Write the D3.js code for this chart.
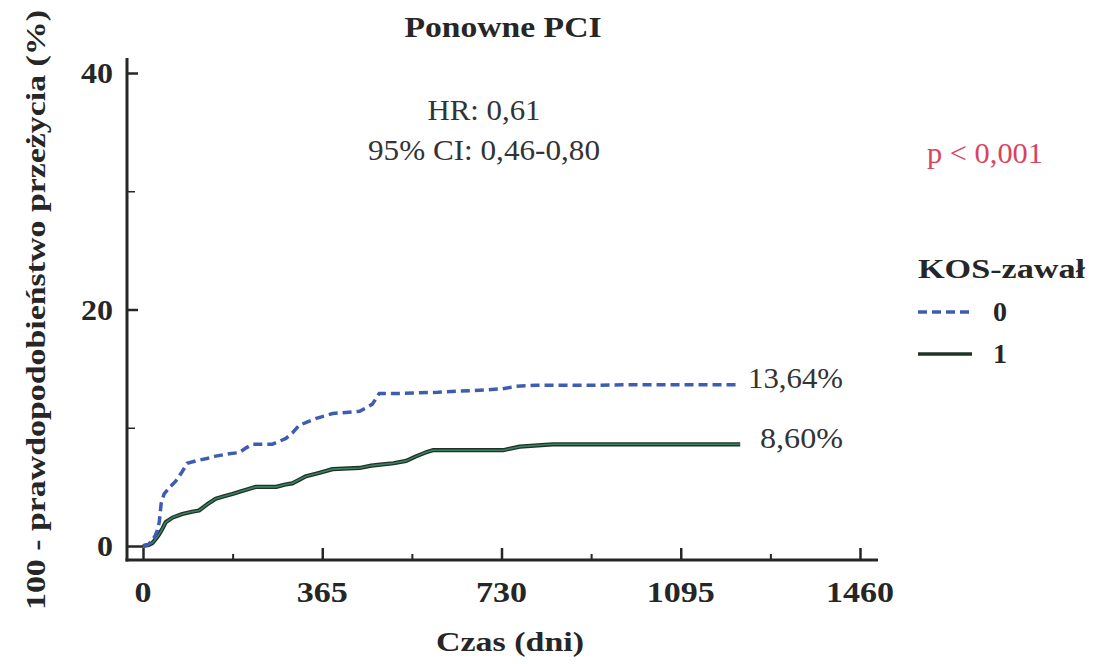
<!DOCTYPE html>
<html><head><meta charset="utf-8">
<script src="https://cdn.jsdelivr.net/npm/d3@7"></script>
<style>
body{margin:0;background:#fff;}
svg{display:block;}
text{font-family:"Liberation Serif","Times New Roman",Times,serif;}
</style></head>
<body><svg id="c" width="1093" height="664" font-family="Liberation Serif, Times New Roman, serif"></svg>
<script>
// ---- data ----
const xTicks = [0, 365, 730, 1095, 1460];
const xMinorTicks = [182.5, 547.5, 912.5, 1277.5];
const yTicks = [0, 20, 40];
const yMinorTicks = [10, 30];
const groups = ["0", "1"];
const days0 = [0,10,18,25,29,33,37,43,55,67,80,90,108,130,148,175,196,210,223,263,280,291,305,318,335,353,386,441,455,467,475,481,522,600,645,700,732,760,800,924,1000,1216];
const vals0 = [0,0.1,0.4,0.9,1.3,2.0,3.6,4.4,5.0,5.5,6.3,7.0,7.2,7.4,7.6,7.8,7.9,8.3,8.6,8.6,8.9,9.1,9.6,10.2,10.5,10.8,11.2,11.4,11.7,12.0,12.5,12.9,12.9,13.0,13.1,13.2,13.3,13.5,13.6,13.6,13.64,13.64];
const days1 = [0,12,19,26,33,40,46,60,80,100,114,130,148,165,182,205,230,271,290,304,318,332,360,386,441,465,488,510,536,557,575,590,733,767,834,1216];
const vals1 = [0,0.1,0.25,0.6,1.0,1.5,2.0,2.4,2.7,2.9,3.0,3.5,4.0,4.2,4.4,4.7,5.0,5.0,5.2,5.3,5.6,5.9,6.2,6.5,6.6,6.8,6.9,7.0,7.2,7.6,7.9,8.1,8.1,8.4,8.6,8.6];
const endLabels = ["13,64%", "8,60%"];
const title = "Ponowne PCI";
const yLabel = "100 - prawdopodobieństwo przeżycia (%)";
const xLabel = "Czas (dni)";
const legendTitle = "KOS-zawał";
const hrText = ["HR: 0,61", "95% CI: 0,46-0,80"];
const pText = "p < 0,001";

// ---- drawing ----
const svg = d3.select("#c");
const x = d3.scaleLinear().domain([0, 1460]).range([143, 860]);
const y = d3.scaleLinear().domain([0, 40]).range([546, 73]);
const axisX = 127, axisY = 560;
const ink = "#262626";

// axes lines
svg.append("line").attr("x1", axisX).attr("x2", axisX).attr("y1", 58).attr("y2", axisY + 1.5)
  .attr("stroke", ink).attr("stroke-width", 3);
svg.append("line").attr("x1", axisX - 1.5).attr("x2", 878).attr("y1", axisY).attr("y2", axisY)
  .attr("stroke", ink).attr("stroke-width", 3);

// x ticks
const gx = svg.append("g").attr("transform", `translate(0,${axisY})`)
  .call(d3.axisTop(x).tickValues(xTicks).tickSize(12).tickFormat(""));
gx.select(".domain").remove();
gx.selectAll("line").attr("stroke", ink).attr("stroke-width", 2.5);
const gxm = svg.append("g").attr("transform", `translate(0,${axisY})`)
  .call(d3.axisTop(x).tickValues(xMinorTicks).tickSize(6).tickFormat(""));
gxm.select(".domain").remove();
gxm.selectAll("line").attr("stroke", ink).attr("stroke-width", 2);
svg.append("g").selectAll("text").data(xTicks).join("text")
  .attr("x", d => x(d)).attr("y", 602).attr("text-anchor", "middle")
  .attr("font-size", 29).attr("font-weight", "bold").attr("fill", ink)
  .attr("textLength", d => String(d).length * 17).attr("lengthAdjust", "spacingAndGlyphs")
  .text(d => d);

// y ticks
const gy = svg.append("g").attr("transform", `translate(${axisX},0)`)
  .call(d3.axisRight(y).tickValues(yTicks).tickSize(11).tickFormat(""));
gy.select(".domain").remove();
gy.selectAll("line").attr("stroke", ink).attr("stroke-width", 2.5);
gy.selectAll("line").filter(d => d === 0).attr("x2", 16);
const gym = svg.append("g").attr("transform", `translate(${axisX},0)`)
  .call(d3.axisRight(y).tickValues(yMinorTicks).tickSize(8).tickFormat(""));
gym.select(".domain").remove();
gym.selectAll("line").attr("stroke", ink).attr("stroke-width", 1.5);
svg.append("g").selectAll("text").data(yTicks).join("text")
  .attr("x", 113).attr("y", d => y(d) + 10).attr("text-anchor", "end")
  .attr("font-size", 29).attr("font-weight", "bold").attr("fill", ink)
  .attr("textLength", d => String(d).length * 16).attr("lengthAdjust", "spacingAndGlyphs")
  .text(d => d);

// curves
const line = d3.line().x(d => x(d[0])).y(d => y(d[1])).curve(d3.curveLinear);
const s0 = days0.map((d, i) => [d, vals0[i]]);
const s1 = days1.map((d, i) => [d, vals1[i]]);
svg.append("path").attr("d", line(s1)).attr("fill", "none")
  .attr("stroke", "#1e3326").attr("stroke-width", 4.2).attr("stroke-linejoin", "round");
svg.append("path").attr("d", line(s1)).attr("fill", "none")
  .attr("stroke", "#3d8068").attr("stroke-width", 1.6).attr("stroke-linejoin", "round");
svg.append("path").attr("d", line(s0)).attr("fill", "none")
  .attr("stroke", "#3f5db0").attr("stroke-width", 3.5).attr("stroke-dasharray", "9,5");

// end labels
svg.append("text").attr("x", 748).attr("y", 388).attr("font-size", 29).attr("fill", "#333")
  .attr("textLength", 95).attr("lengthAdjust", "spacingAndGlyphs").text(endLabels[0]);
svg.append("text").attr("x", 760).attr("y", 448).attr("font-size", 29).attr("fill", "#333")
  .attr("textLength", 83).attr("lengthAdjust", "spacingAndGlyphs").text(endLabels[1]);

// title
svg.append("text").attr("x", 503).attr("y", 37).attr("text-anchor", "middle")
  .attr("font-size", 30).attr("font-weight", "bold").attr("fill", ink)
  .attr("textLength", 197).attr("lengthAdjust", "spacingAndGlyphs").text(title);

// HR / CI
svg.append("text").attr("x", 484).attr("y", 120).attr("text-anchor", "middle")
  .attr("font-size", 30).attr("fill", "#333")
  .attr("textLength", 113).attr("lengthAdjust", "spacingAndGlyphs").text(hrText[0]);
svg.append("text").attr("x", 484).attr("y", 160).attr("text-anchor", "middle")
  .attr("font-size", 30).attr("fill", "#333")
  .attr("textLength", 232).attr("lengthAdjust", "spacingAndGlyphs").text(hrText[1]);

// p value
svg.append("text").attr("x", 927).attr("y", 163)
  .attr("font-size", 30).attr("fill", "#d8445e")
  .attr("textLength", 116).attr("lengthAdjust", "spacingAndGlyphs").text(pText);

// axis labels
svg.append("text").attr("x", 510).attr("y", 651).attr("text-anchor", "middle")
  .attr("font-size", 28).attr("font-weight", "bold").attr("fill", ink)
  .attr("textLength", 148).attr("lengthAdjust", "spacingAndGlyphs").text(xLabel);
svg.append("text").attr("transform", "translate(45,310) rotate(-90)").attr("text-anchor", "middle")
  .attr("font-size", 28).attr("font-weight", "bold").attr("fill", ink)
  .attr("textLength", 600).attr("lengthAdjust", "spacingAndGlyphs").text(yLabel);

// legend
svg.append("text").attr("x", 918).attr("y", 278)
  .attr("font-size", 28).attr("font-weight", "bold").attr("fill", ink)
  .attr("textLength", 167).attr("lengthAdjust", "spacingAndGlyphs").text(legendTitle);
const leg = svg.append("g");
const legY = [312, 354];
leg.selectAll("line").data(groups).join("line")
  .attr("x1", 918).attr("x2", 972).attr("y1", (d, i) => legY[i]).attr("y2", (d, i) => legY[i])
  .attr("stroke", (d, i) => i === 0 ? "#3f5db0" : "#1e3326")
  .attr("stroke-width", 3.5).attr("stroke-dasharray", (d, i) => i === 0 ? "9,5" : null);
leg.selectAll("text").data(groups).join("text")
  .attr("x", 993).attr("y", (d, i) => legY[i] + 9)
  .attr("font-size", 28).attr("font-weight", "bold").attr("fill", ink).text(d => d);
</script></body></html>
